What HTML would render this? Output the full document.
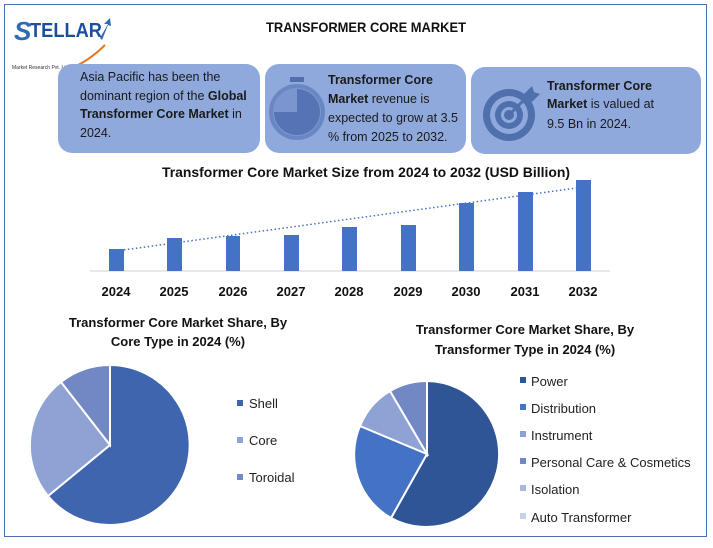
<!DOCTYPE html>
<html><head><meta charset="utf-8"><style>
body{margin:0;background:#fff;}
svg text{font-family:"Liberation Sans",sans-serif;}
</style></head><body>
<svg width="713" height="543" viewBox="0 0 713 543" xmlns="http://www.w3.org/2000/svg">
<rect x="4.5" y="4.5" width="702" height="532" fill="#fff" stroke="#4a6fb5" stroke-width="1"/>
<!-- logo -->
<text x="14" y="40" font-size="26" fill="#2b6cb5" font-style="italic" font-weight="bold">S</text>
<text x="30" y="37" font-size="20" fill="#1b4f9c" font-weight="bold" textLength="72" lengthAdjust="spacingAndGlyphs">TELLAR</text>
<path d="M100 38 L108 24 L104 24 L110 18 L111 26 L108 25 L102 40Z" fill="#2a6cb6"/>
<path d="M72 68 Q90 60 105 45" stroke="#e87722" stroke-width="2" fill="none"/>
<text x="12" y="69" font-size="5" fill="#333">Market Research Pvt. Ltd.</text>
<text x="366" y="32" font-size="14" font-weight="bold" text-anchor="middle" fill="#111" textLength="200" lengthAdjust="spacingAndGlyphs">TRANSFORMER CORE MARKET</text>
<!-- boxes -->
<rect x="58" y="64" width="202" height="89" rx="14" fill="#8fa9dd"/>
<rect x="265" y="64" width="201" height="89" rx="14" fill="#8fa9dd"/>
<rect x="471" y="67" width="230" height="87" rx="14" fill="#8fa9dd"/>
<g font-size="12.5" fill="#1a1a1a">
<text x="80" y="81">Asia Pacific has been the</text>
<text x="80" y="100">dominant region of the <tspan font-weight="bold">Global</tspan></text>
<text x="80" y="118"><tspan font-weight="bold">Transformer Core Market</tspan> in</text>
<text x="80" y="137">2024.</text>
<text x="328" y="84" font-weight="bold">Transformer Core</text>
<text x="328" y="103"><tspan font-weight="bold">Market</tspan> revenue is</text>
<text x="328" y="122">expected to grow at 3.5</text>
<text x="328" y="141">% from 2025 to 2032.</text>
<text x="547" y="90" font-weight="bold">Transformer Core</text>
<text x="547" y="108"><tspan font-weight="bold">Market</tspan> is valued at</text>
<text x="547" y="128">9.5 Bn in 2024.</text>
</g>
<!-- stopwatch -->
<rect x="290" y="77" width="14" height="5" fill="#4f6fad"/>
<circle cx="297" cy="112" r="26" fill="#7b96cf" stroke="#6a87c3" stroke-width="4"/>
<path d="M297 112 L297 89 A23 23 0 1 1 274 112Z" fill="#5674b5"/>
<!-- target -->
<circle cx="509" cy="115" r="26" fill="#4f6fad"/>
<circle cx="509" cy="115" r="19" fill="#8fa9dd"/>
<circle cx="509" cy="115" r="14" fill="#4f6fad"/>
<circle cx="509" cy="115" r="8" fill="#8fa9dd"/>
<circle cx="509" cy="115" r="5" fill="#4f6fad"/>
<path d="M509 115 L528 96" stroke="#4f6fad" stroke-width="3"/>
<path d="M524 94 L532 86 L534 92 L540 94 L532 102Z" fill="#4f6fad"/>
<!-- bar chart -->
<text x="366" y="177" font-size="14" font-weight="bold" text-anchor="middle" fill="#111" textLength="408" lengthAdjust="spacingAndGlyphs">Transformer Core Market Size from 2024 to 2032 (USD Billion)</text>
<line x1="90" y1="271" x2="610" y2="271" stroke="#d0d0d0"/>
<g fill="#4472c4">
<rect x="109" y="249" width="15" height="22"/>
<rect x="167" y="238" width="15" height="33"/>
<rect x="226" y="236" width="14" height="35"/>
<rect x="284" y="235" width="15" height="36"/>
<rect x="342" y="227" width="15" height="44"/>
<rect x="401" y="225" width="15" height="46"/>
<rect x="459" y="203" width="15" height="68"/>
<rect x="518" y="192" width="15" height="79"/>
<rect x="576" y="180" width="15" height="91"/>
</g>
<line x1="116" y1="251" x2="584" y2="187" stroke="#4472c4" stroke-width="1.5" stroke-dasharray="1.5,2.5"/>
<g font-size="13" font-weight="bold" text-anchor="middle" fill="#111">
<text x="116" y="296">2024</text><text x="174" y="296">2025</text><text x="233" y="296">2026</text>
<text x="291" y="296">2027</text><text x="349" y="296">2028</text><text x="408" y="296">2029</text>
<text x="466" y="296">2030</text><text x="525" y="296">2031</text><text x="583" y="296">2032</text>
</g>
<!-- pie titles -->
<g font-size="13" font-weight="bold" text-anchor="middle" fill="#111">
<text x="178" y="327">Transformer Core Market Share, By</text>
<text x="178" y="346">Core Type in 2024 (%)</text>
<text x="525" y="334">Transformer Core Market Share, By</text>
<text x="525" y="354">Transformer Type in 2024 (%)</text>
</g>
<g stroke="#fff" stroke-width="2">
<path d="M110 445 L110 365 A80 80 0 1 1 48 496Z" fill="#3f65af"/>
<path d="M110 445 L48 496 A80 80 0 0 1 61 382Z" fill="#8ea2d3"/>
<path d="M110 445 L61 382 A80 80 0 0 1 110 365Z" fill="#7188c5"/>
</g>
<g font-size="13" fill="#222">
<rect x="237" y="400" width="6" height="6" fill="#3f65af"/><text x="249" y="408">Shell</text>
<rect x="237" y="437" width="6" height="6" fill="#8ea2d3"/><text x="249" y="445">Core</text>
<rect x="237" y="474" width="6" height="6" fill="#7188c5"/><text x="249" y="482">Toroidal</text>
</g>
<g stroke="#fff" stroke-width="2">
<path d="M427 454 L427 381 A73 73 0 1 1 391 518Z" fill="#2f5597"/>
<path d="M427 454 L391 518 A73 73 0 0 1 360 426Z" fill="#4472c4"/>
<path d="M427 454 L360 426 A73 73 0 0 1 390 391Z" fill="#8ea2d3"/>
<path d="M427 454 L390 391 A73 73 0 0 1 427 381Z" fill="#7188c5"/>
</g>
<g font-size="13" fill="#222">
<rect x="520" y="377" width="6" height="6" fill="#2f5597"/><text x="531" y="386">Power</text>
<rect x="520" y="404" width="6" height="6" fill="#4472c4"/><text x="531" y="413">Distribution</text>
<rect x="520" y="431" width="6" height="6" fill="#8ea2d3"/><text x="531" y="440">Instrument</text>
<rect x="520" y="458" width="6" height="6" fill="#7188c5"/><text x="531" y="467">Personal Care &amp; Cosmetics</text>
<rect x="520" y="485" width="6" height="6" fill="#a8b8e0"/><text x="531" y="494">Isolation</text>
<rect x="520" y="513" width="6" height="6" fill="#c9d0ec"/><text x="531" y="522">Auto Transformer</text>
</g>
</svg>
</body></html>
